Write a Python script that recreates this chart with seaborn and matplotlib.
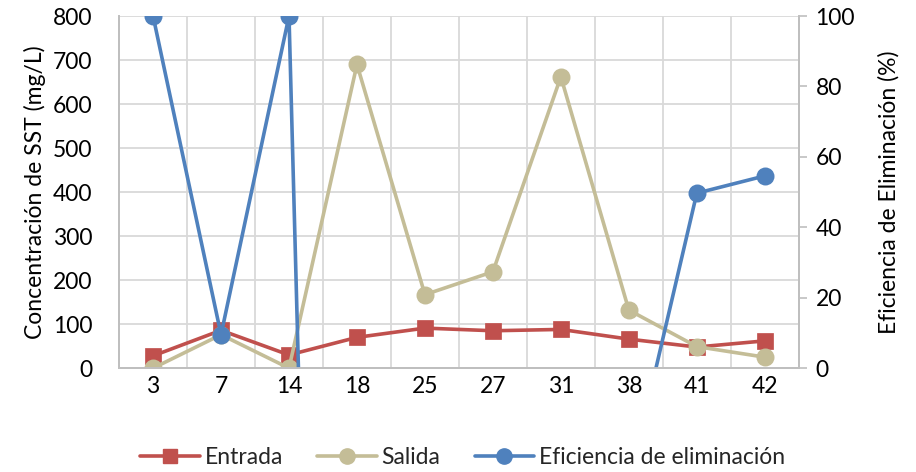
import numpy as np
import pandas as pd
import matplotlib
matplotlib.use("Agg")
import matplotlib.pyplot as plt
from matplotlib.lines import Line2D
import seaborn as sns

# Sampling days (categorical axis)
dias = ["3", "7", "14", "18", "25", "27", "31", "38", "41", "42"]

# Suspended solids concentration (mg/L)
entrada = [28, 86, 30, 70, 91, 85, 88, 66, 48, 62]
salida = [0, 76, 0, 690, 167, 219, 662, 132, 49, 25]

# Removal efficiency (%)
eficiencia = [100, 9.5, 100, -620, -84, -157, -652, -33, 49.7, 54.6]

df = pd.DataFrame({"dia": dias, "entrada": entrada,
                   "salida": salida, "eficiencia": eficiencia})

sns.set_theme(style="white")
plt.rcParams["font.family"] = ["Lato", "DejaVu Sans"]

c_ent = "#C0504D"
c_sal = "#C4BD97"
c_efi = "#4F81BD"
grid_c = "#D9D9D9"
axis_c = "#BFBFBF"

fig, ax = plt.subplots(figsize=(9.16, 4.72), dpi=100)
fig.subplots_adjust(left=0.130, right=0.872, top=0.966, bottom=0.220)

sns.pointplot(data=df, x="dia", y="entrada", order=dias, color=c_ent,
              marker="s", markersize=10, linewidth=2.6, ax=ax)
sns.pointplot(data=df, x="dia", y="salida", order=dias, color=c_sal,
              marker="o", markersize=11, linewidth=2.6, ax=ax)

ax2 = ax.twinx()
sns.pointplot(data=df, x="dia", y="eficiencia", order=dias, color=c_efi,
              marker="o", markersize=11, linewidth=2.6, ax=ax2)

ax.set_xlim(-0.5, len(dias) - 0.5)
ax2.set_xlim(-0.5, len(dias) - 0.5)
ax.set_ylim(0, 800)
ax.set_yticks(np.arange(0, 801, 100))
ax2.set_ylim(0, 100)
ax2.set_yticks(np.arange(0, 101, 20))

# Grid: horizontal on the left scale, vertical between categories
ax.set_xticks(np.arange(-0.5, len(dias), 1), minor=True)
ax.grid(which="minor", axis="x", color=grid_c, linewidth=1.3)
ax.grid(which="major", axis="y", color=grid_c, linewidth=1.3)
ax.grid(which="major", axis="x", visible=False)
ax.set_axisbelow(True)

fs = 16.5
ax.set_xlabel("")
ax.set_ylabel("Concentración de SST (mg/L)", fontsize=fs, color="black", labelpad=5)
ax2.set_ylabel("Eficiencia de Eliminación (%)", fontsize=fs, color="black", labelpad=17)
ax.tick_params(axis="y", which="both", length=0, labelsize=fs, colors="black", pad=19)
ax.tick_params(axis="x", which="both", length=0, labelsize=fs, colors="black", pad=6)
ax2.tick_params(axis="y", length=6, width=1.2, color=axis_c, labelsize=fs,
                labelcolor="black", pad=6, direction="out")

for a in (ax, ax2):
    a.spines["top"].set_visible(False)
    for side in ("left", "bottom", "right"):
        a.spines[side].set_color(axis_c)
    for s in a.spines.values():
        s.set_linewidth(1.3)

handles = [
    Line2D([], [], color=c_ent, marker="s", markersize=10, linewidth=2.6),
    Line2D([], [], color=c_sal, marker="o", markersize=11, linewidth=2.6),
    Line2D([], [], color=c_efi, marker="o", markersize=11, linewidth=2.6),
]
labels = ["Entrada", "Salida", "Eficiencia de eliminación"]
fig.legend(handles, labels, loc="lower center", bbox_to_anchor=(0.505, -0.035),
           ncol=3, frameon=False, fontsize=fs, handlelength=2.6,
           handletextpad=0.2, columnspacing=1.5)

fig.savefig("out.png", dpi=100)
